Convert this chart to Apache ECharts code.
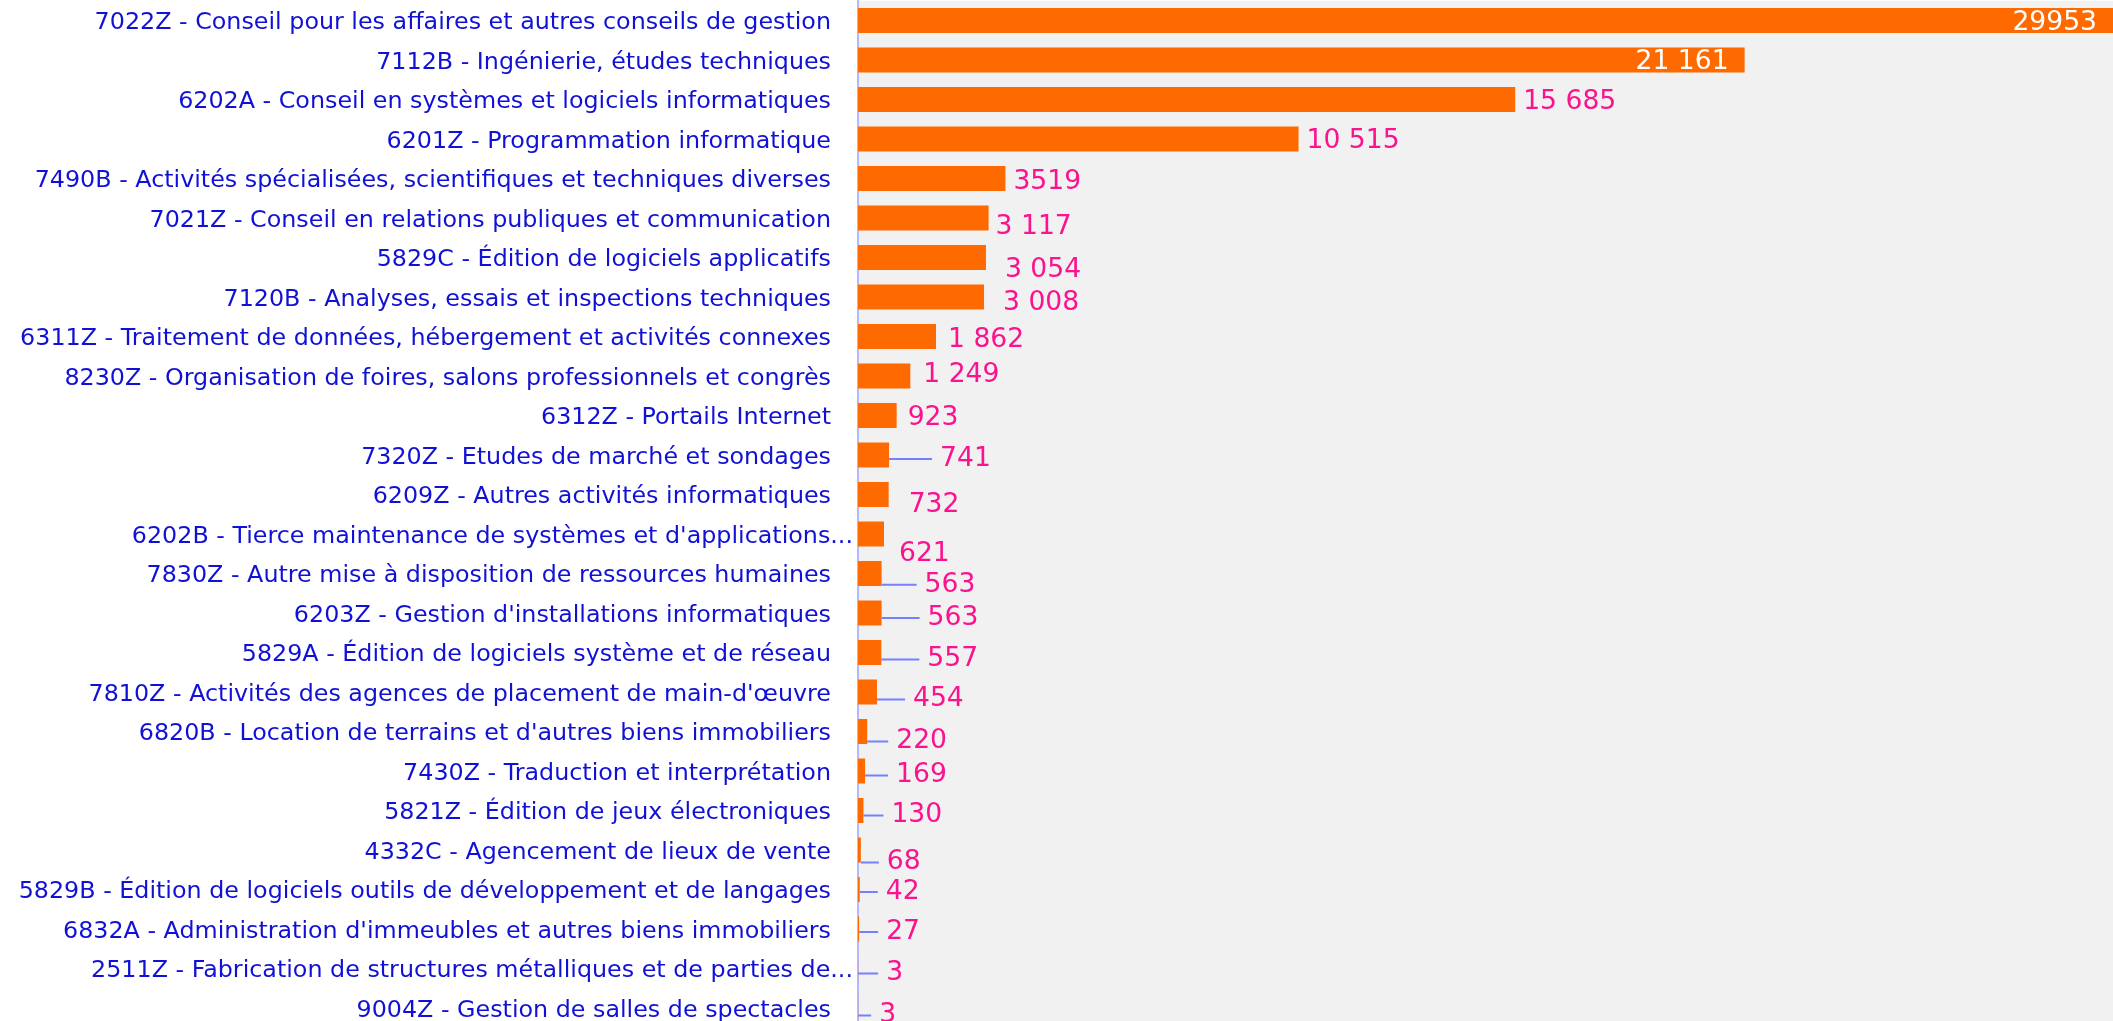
<!DOCTYPE html>
<html><head><meta charset="utf-8">
<script src="https://cdn.jsdelivr.net/npm/echarts@6/dist/echarts.min.js"></script>
<style>html,body{margin:0;padding:0;background:#fff;overflow:hidden}#c{width:2113px;height:1040px}</style>
</head><body><div id="c"></div>
<script>
const categories = [
  "7022Z - Conseil pour les affaires et autres conseils de gestion",
  "7112B - Ingénierie, études techniques",
  "6202A - Conseil en systèmes et logiciels informatiques",
  "6201Z - Programmation informatique",
  "7490B - Activités spécialisées, scientifiques et techniques diverses",
  "7021Z - Conseil en relations publiques et communication",
  "5829C - Édition de logiciels applicatifs",
  "7120B - Analyses, essais et inspections techniques",
  "6311Z - Traitement de données, hébergement et activités connexes",
  "8230Z - Organisation de foires, salons professionnels et congrès",
  "6312Z - Portails Internet",
  "7320Z - Etudes de marché et sondages",
  "6209Z - Autres activités informatiques",
  "6202B - Tierce maintenance de systèmes et d'applications...",
  "7830Z - Autre mise à disposition de ressources humaines",
  "6203Z - Gestion d'installations informatiques",
  "5829A - Édition de logiciels système et de réseau",
  "7810Z - Activités des agences de placement de main-d'œuvre",
  "6820B - Location de terrains et d'autres biens immobiliers",
  "7430Z - Traduction et interprétation",
  "5821Z - Édition de jeux électroniques",
  "4332C - Agencement de lieux de vente",
  "5829B - Édition de logiciels outils de développement et de langages",
  "6832A - Administration d'immeubles et autres biens immobiliers",
  "2511Z - Fabrication de structures métalliques et de parties de...",
  "9004Z - Gestion de salles de spectacles"
];
const values = [29953, 21161, 15685, 10515, 3519, 3117, 3054, 3008, 1862, 1249, 923, 741, 732, 621, 563, 563, 557, 454, 220, 169, 130, 68, 42, 27, 3, 3];
const valueLabels = ["29953", "21 161", "15 685", "10 515", "3519", "3 117", "3 054", "3 008", "1 862", "1 249", "923", "741", "732", "621", "563", "563", "557", "454", "220", "169", "130", "68", "42", "27", "3", "3"];

// label nudges (presentation only)
const labelShiftX = [0, 0, 0, 0, 0, -1, 11, 11, 4, 5, 3, 43, 12, 7, 35, 38, 38, 28, 21, 23, 20, 18, 18, 19, 20, 13];
const labelShiftY = [0, 0, 0, 0, 1, 7, 10, 4, 1.5, -3.5, 0, 1.5, 8, 18, 8.7, 2.5, 4.5, 5, 7.5, 2, 2.5, 10, 0, 0.5, 2.5, 5];
const labelLineShown = [false, false, false, false, false, false, false, false, false, false, false, true, false, false, true, true, true, true, true, true, true, true, true, true, true, true];
const insideLabelCount = 2;
const labelBaseDy = 2.5;

const FONT = 'DejaVu Sans';
const chart = echarts.init(document.getElementById('c'), null, {renderer: 'canvas'});

const seriesData = values.map((v, i) => {
  const item = { value: v, labelLine: { show: labelLineShown[i] } };
  if (i < insideLabelCount) {
    item.label = { position: 'insideRight', color: '#ffffff', distance: 8 };
  }
  return item;
});

chart.setOption({
  animation: false,
  backgroundColor: '#ffffff',
  grid: { left: 858, top: 0.75, width: 1260, height: 1027, show: true, backgroundColor: '#f1f1f1', borderWidth: 0, containLabel: false },
  xAxis: { type: 'value', min: 0, max: 'dataMax', show: false },
  yAxis: {
    type: 'category', inverse: true, data: categories,
    axisLine: { show: true, lineStyle: { color: '#b3b8ff', width: 2 } },
    axisTick: { show: false },
    axisLabel: {
      margin: 5, color: '#1111d6', fontFamily: FONT, fontSize: 23.8, padding: [5, 0, 0, 0],
      formatter: v => v.endsWith('...') ? v : '{p|' + v + '}',
      rich: { p: { padding: [0, 22, 0, 0], color: '#1111d6', fontFamily: FONT, fontSize: 23.8 } }
    }
  },
  series: [{
    type: 'bar', data: seriesData, barWidth: 25,
    itemStyle: { color: '#ff6a00' },
    label: {
      show: true, position: 'right', distance: 0, padding: [0, 8],
      backgroundColor: 'rgba(0,0,0,0)',
      color: '#fb128e', fontFamily: FONT, fontSize: 26.6,
      formatter: p => valueLabels[p.dataIndex]
    },
    labelLine: { show: true, length2: 10, lineStyle: { color: '#7480ff', width: 2 } },
    labelLayout: p => ({ dx: labelShiftX[p.dataIndex], dy: labelShiftY[p.dataIndex] + labelBaseDy })
  }]
});
</script>
</body></html>
